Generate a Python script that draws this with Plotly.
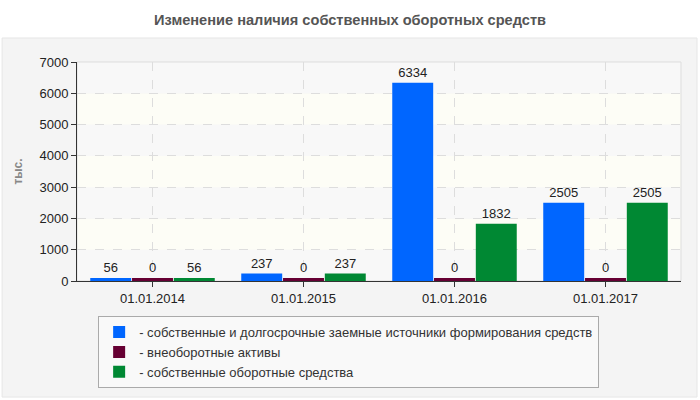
import plotly.graph_objects as go

dates = ["01.01.2014", "01.01.2015", "01.01.2016", "01.01.2017"]
own_longterm = [56, 237, 6334, 2505]
noncurrent = [0, 0, 0, 0]
own_working = [56, 237, 1832, 2505]

names = [
    "- собственные и долгосрочные заемные источники формирования средств",
    "- внеоборотные активы",
    "- собственные оборотные средства",
]
colors = ["#0066ff", "#660033", "#008833"]

y_max = 7000
plot_h = 219
# like a minimum point length: tiny values still show as a 3px bar
min_len = 3 * y_max / plot_h

fig = go.Figure()
for name, vals, col in zip(names, [own_longterm, noncurrent, own_working], colors):
    fig.add_trace(go.Bar(
        x=dates, y=[max(v, min_len) for v in vals], name=name,
        marker=dict(color=col, line=dict(width=0)),
        text=[str(v) for v in vals], textposition="outside",
        textfont=dict(size=13, color="#222"), cliponaxis=False,
    ))

shapes = [
    # outer grey panel
    dict(type="rect", xref="paper", yref="paper", x0=-0.124, x1=1.0265, y0=-0.53, y1=1.1096,
         fillcolor="#f4f4f4", line=dict(color="#e6e6e6", width=1), layer="below"),
]
# alternating bands
for i in range(0, y_max, 1000):
    fill = "#f8f8f8" if (i // 1000) % 2 == 0 else "#fdfdf6"
    shapes.append(dict(type="rect", xref="paper", yref="y", x0=0, x1=1, y0=i, y1=i + 1000,
                       fillcolor=fill, line=dict(width=0), layer="below"))
shapes.append(dict(type="rect", xref="paper", yref="paper", x0=0, x1=1, y0=0, y1=1,
                   line=dict(color="#dddddd", width=1), layer="below"))

fig.update_layout(
    width=700, height=400,
    margin=dict(l=77, r=19, t=62, b=119),
    paper_bgcolor="white", plot_bgcolor="rgba(0,0,0,0)",
    font=dict(family="Arial, Liberation Sans, sans-serif", size=13, color="#222"),
    title=dict(text="<b>Изменение наличия собственных оборотных средств</b>",
               x=0.5, xanchor="center", y=0.95, yanchor="middle",
               font=dict(size=14.6, color="#555")),
    barmode="group", bargap=0.17, bargroupgap=0.02,
    showlegend=True,
    legend=dict(x=0.035, y=-0.16, xanchor="left", yanchor="top",
                bgcolor="#f9f9f9", bordercolor="#aaaaaa", borderwidth=1,
                font=dict(size=13, color="#333"), traceorder="normal", itemwidth=30),
    shapes=shapes,
    xaxis=dict(showline=True, linecolor="#333", linewidth=1, ticks="outside", ticklen=5,
               tickcolor="#333", showgrid=True, gridcolor="#dddddd", griddash="dash",
               tickfont=dict(size=13, color="#222"), automargin=False),
    yaxis=dict(range=[0, y_max], tickvals=list(range(0, y_max + 1, 1000)),
               showline=True, linecolor="#333", linewidth=1, ticks="outside", ticklen=5,
               tickcolor="#333", showgrid=True, gridcolor="#dddddd", griddash="dash",
               zeroline=False, tickfont=dict(size=13, color="#222"), automargin=False,
               title=dict(text="<b>тыс.</b>", font=dict(size=12, color="#888"), standoff=14)),
)

fig.write_html("out.html", config={"displayModeBar": False},
               post_script="document.body.style.margin='0';")
